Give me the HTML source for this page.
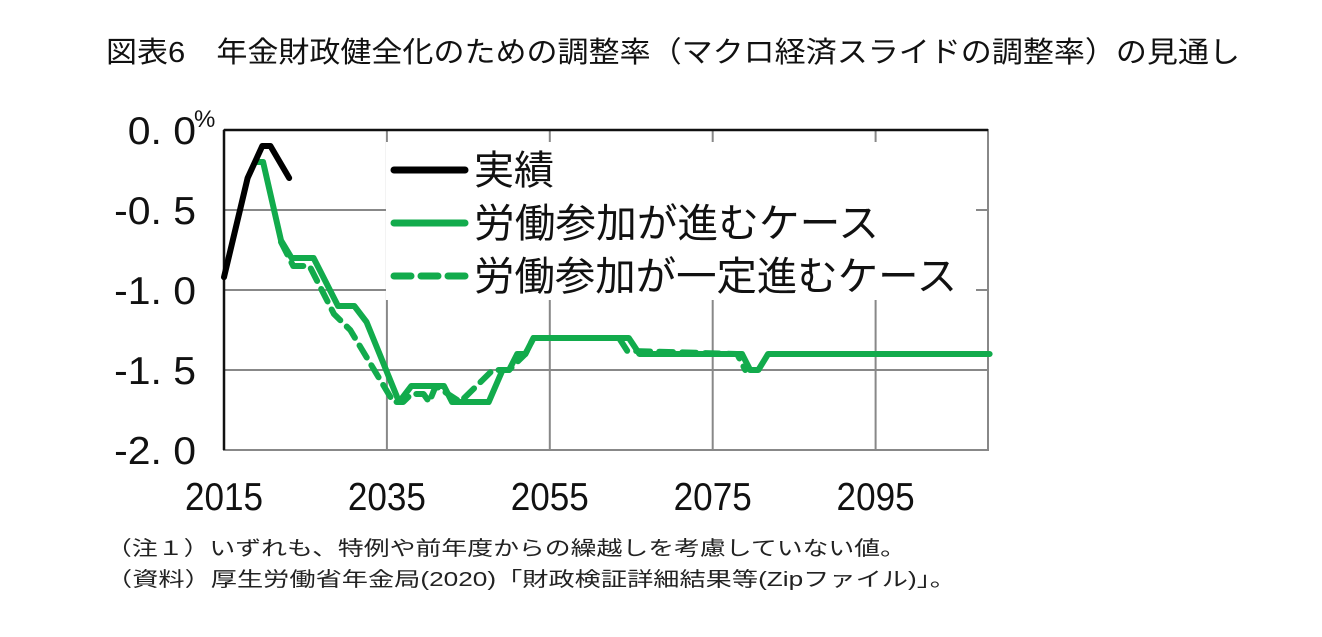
<!DOCTYPE html>
<html><head><meta charset="utf-8"><style>
body{margin:0;background:#fff;width:1322px;height:632px;overflow:hidden;font-family:"Liberation Sans","Noto Sans CJK JP",sans-serif}
svg text{font-family:"Liberation Sans","Noto Sans CJK JP",sans-serif}
</style></head><body>
<svg id="c" width="1322" height="632">
<text x="106" y="62" font-size="29" fill="#111" textLength="1134" lengthAdjust="spacingAndGlyphs">図表6　年金財政健全化のための調整率（マクロ経済スライドの調整率）の見通し</text>
<text x="106" y="555" font-size="20" fill="#222" textLength="800" lengthAdjust="spacingAndGlyphs">（注１）いずれも、特例や前年度からの繰越しを考慮していない値。</text>
<text x="106" y="586" font-size="20" fill="#222" textLength="850" lengthAdjust="spacingAndGlyphs">（資料）厚生労働省年金局(2020)「財政検証詳細結果等(Zipファイル)」。</text>
<g id="plot"></g>
</svg>
<script>
const yTicks=[0,-0.5,-1.0,-1.5,-2.0];
const yTickLabels=["0. 0","-0. 5","-1. 0","-1. 5","-2. 0"];
const xTicks=[2015,2035,2055,2075,2095];
const actualYears=[2015,2017.9,2019.7,2020.7,2023];
const actualVals=[-0.92,-0.3,-0.1,-0.1,-0.3];
const caseAYears=[2019,2019.8,2022,2023.3,2026,2029,2031,2032.5,2036.5,2038,2042,2043,2047.5,2049.2,2050,2051,2052,2053,2064.7,2066,2078.6,2079.6,2080.6,2081.8,2109];
const caseAVals=[-0.2,-0.2,-0.69,-0.8,-0.8,-1.1,-1.1,-1.2,-1.7,-1.6,-1.6,-1.7,-1.7,-1.5,-1.5,-1.4,-1.4,-1.3,-1.3,-1.4,-1.4,-1.5,-1.5,-1.4,-1.4];
const caseBYears=[2022,2023.5,2025.5,2028.5,2030.5,2035.8,2037,2038,2039.5,2040.2,2041,2044,2046,2048,2050,2052,2053,2063.5,2064.5,2078,2079];
const caseBVals=[-0.7,-0.85,-0.85,-1.15,-1.25,-1.7,-1.7,-1.65,-1.65,-1.7,-1.6,-1.7,-1.6,-1.5,-1.5,-1.4,-1.3,-1.3,-1.38,-1.4,-1.5];
const L=224,R=988,T=130,B=450,X0=2015,X1=2108.8,Y0=0,Y1=-2;
const sx=v=>L+(v-X0)/(X1-X0)*(R-L);
const sy=v=>T+(Y0-v)/(Y0-Y1)*(B-T);
const NS="http://www.w3.org/2000/svg",g=document.getElementById('plot');
function mk(t,a){const e=document.createElementNS(NS,t);for(const k in a)e.setAttribute(k,a[k]);g.appendChild(e);return e;}
yTicks.forEach((v,i)=>{
 if(i>0&&i<yTicks.length-1){const l=mk('line',{x1:L,x2:R,y1:sy(v),y2:sy(v),stroke:'#888','stroke-width':2});
 
 }
 const t=mk('text',{x:196,y:sy(v)+14,'font-size':39,'text-anchor':'end',fill:'#111',transform:`translate(196,0) scale(1.05,1) translate(-196,0)`});
 t.textContent=yTickLabels[i];
 
 
});
const pc=mk('text',{x:194,y:127,'font-size':24,fill:'#111'});pc.textContent='%';


xTicks.forEach((v,i)=>{
 if(i>0){const l=mk('line',{x1:sx(v),x2:sx(v),y1:T,y2:B,stroke:'#888','stroke-width':2});
 
 }
 const t=mk('text',{x:sx(v),y:510,'font-size':39,'text-anchor':'middle',fill:'#111',transform:`translate(${sx(v)},0) scale(0.9,1) translate(${-sx(v)},0)`});
 t.textContent=v;
 
 
});
const fr=mk('path',{d:`M${L},${B}V${T}H${R}V${B}Z`,fill:'none',stroke:'#888','stroke-width':2});


const topAxis=mk('line',{x1:L,x2:R,y1:T,y2:T,stroke:'#111','stroke-width':2.5});


const lb=mk('line',{x1:L,x2:L,y1:T,y2:B,stroke:'#111','stroke-width':2.5});


const bg=mk('rect',{x:386,y:142,width:590,height:158,fill:'#fff'});


function line(xs,ys,col,dash,name){
 const p=mk('polyline',{points:xs.map((x,i)=>sx(x)+','+sy(ys[i])).join(' '),fill:'none',stroke:col,'stroke-width':6,'stroke-linejoin':'round','stroke-linecap':'round','stroke-dasharray':dash||'none'});
 
 
}
line(caseBYears,caseBVals,'#12ab4c','14 9','series-labor-partial');
line(caseAYears,caseAVals,'#12ab4c',null,'series-labor-progress');
line(actualYears,actualVals,'#000',null,'series-actual');
const leg=[['実績','#000',null,80],['労働参加が進むケース','#12ab4c',null,405],['労働参加が一定進むケース','#12ab4c','17 10',483]];
leg.forEach((d,i)=>{const y=170+i*53;
 const l=mk('line',{x1:394,x2:465,y1:y,y2:y,stroke:d[1],'stroke-width':7,'stroke-linecap':'round','stroke-dasharray':d[2]||'none'});
 
 
 const t=mk('text',{x:474,y:y+14,'font-size':40,fill:'#111',textLength:d[3],lengthAdjust:'spacingAndGlyphs'});t.textContent=d[0];
 
 
});
</script>
</body></html>
